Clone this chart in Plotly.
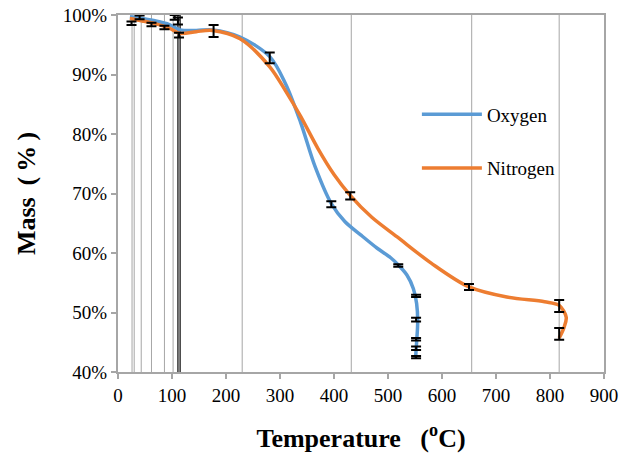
import plotly.graph_objects as go

# Oxygen curve (temperature degC, mass %)
oxy_t = [22, 45, 70, 95, 115, 145, 175, 226, 281, 310, 338, 365, 395, 420, 450, 480, 505, 519, 535, 547, 553, 555, 553, 551]
oxy_m = [99.7, 99.4, 99.0, 98.4, 97.5, 97.4, 97.5, 96.3, 93.0, 88.5, 82.0, 74.5, 68.3, 65.3, 63.0, 60.8, 59.2, 58.0, 56.3, 54.0, 51.5, 48.5, 45.0, 42.3]

# Nitrogen curve
nit_t = [22, 45, 70, 95, 115, 145, 175, 226, 281, 310, 338, 370, 400, 430, 470, 517, 580, 650, 720, 790, 817, 830, 826, 817]
nit_m = [99.4, 99.0, 98.5, 97.8, 96.9, 97.2, 97.4, 96.0, 91.3, 87.3, 83.0, 77.6, 73.2, 69.7, 66.0, 62.7, 58.3, 54.3, 52.6, 51.8, 51.2, 49.2, 47.5, 45.7]

# Error bar points
oxy_err_t = [25, 40, 62, 86, 105, 113, 177, 281, 395, 519, 552, 552, 552, 552, 552]
oxy_err_m = [98.6, 99.6, 98.4, 97.9, 99.6, 96.6, 97.3, 92.8, 68.2, 57.9, 52.8, 48.8, 45.5, 44.0, 42.5]
oxy_err_e = [0.3, 0.3, 0.3, 0.3, 0.4, 0.4, 1.0, 0.9, 0.5, 0.2, 0.2, 0.3, 0.2, 0.3, 0.2]

nit_err_t = [111, 430, 650, 817, 817]
nit_err_m = [99.0, 69.6, 54.3, 51.1, 46.4]
nit_err_e = [0.6, 0.6, 0.5, 1.0, 1.0]

# Vertical drop lines
drop_grey_t = [26, 30, 43, 62, 86, 102, 230, 432, 655, 817]
drop_black_t = [111, 115]

y_ticks = [40, 50, 60, 70, 80, 90, 100]
y_labels = [f"{v}%" for v in y_ticks]
x_ticks = [0, 100, 200, 300, 400, 500, 600, 700, 800, 900]

SERIF = "Liberation Serif, Times New Roman, serif"

def vlines(xs):
    X, Y = [], []
    for x in xs:
        X += [x, x, None]
        Y += [40, 100, None]
    return X, Y

fig = go.Figure()
gx, gy = vlines(drop_grey_t)
fig.add_trace(go.Scatter(x=gx, y=gy, mode="lines", line=dict(color="#a6a6a6", width=1),
                         showlegend=False, hoverinfo="skip"))
bx, by = vlines(drop_black_t)
fig.add_trace(go.Scatter(x=bx, y=by, mode="lines", line=dict(color="#000000", width=1.2),
                         showlegend=False, hoverinfo="skip"))

fig.add_trace(go.Scatter(x=oxy_t, y=oxy_m, mode="lines", name="Oxygen",
                         line=dict(color="#5B9BD5", width=3.5, shape="spline", smoothing=0.9),
                         legendgroup="a"))
fig.add_trace(go.Scatter(x=nit_t, y=nit_m, mode="lines", name="Nitrogen",
                         line=dict(color="#ED7D31", width=3.5, shape="spline", smoothing=0.9),
                         legendgroup="b"))

for ts, ms, es in [(oxy_err_t, oxy_err_m, oxy_err_e), (nit_err_t, nit_err_m, nit_err_e)]:
    fig.add_trace(go.Scatter(x=ts, y=ms, mode="markers",
                             marker=dict(size=1, color="rgba(0,0,0,0)"),
                             error_y=dict(type="data", array=es, visible=True,
                                          color="#000000", thickness=2, width=5),
                             showlegend=False, hoverinfo="skip"))

axis_font = dict(family=SERIF, size=19, color="#000000")
fig.update_layout(
    width=632, height=459,
    margin=dict(l=118, r=28, t=15, b=87, autoexpand=False),
    paper_bgcolor="white", plot_bgcolor="white",
    font=dict(family=SERIF, size=19, color="#000000"),
    showlegend=True,
    legend=dict(x=0.615, y=0.775, xanchor="left", yanchor="top",
                bgcolor="rgba(0,0,0,0)", font=dict(family=SERIF, size=19),
                tracegroupgap=26, traceorder="grouped", itemwidth=60),
    xaxis=dict(range=[0, 900], tickvals=x_ticks, ticks="outside", ticklen=5,
               tickcolor="#a6a6a6", tickwidth=2, showgrid=False, zeroline=False,
               showline=True, linecolor="#a6a6a6", linewidth=2, mirror=True,
               tickfont=axis_font, automargin=False,
               title=dict(text="<b>Temperature   (<sup>o</sup>C)</b>",
                          font=dict(family=SERIF, size=26), standoff=24)),
    yaxis=dict(range=[40, 100], tickvals=y_ticks, ticktext=y_labels, ticks="outside",
               ticklen=5, tickcolor="#a6a6a6", tickwidth=2, showgrid=False, zeroline=False,
               showline=True, linecolor="#a6a6a6", linewidth=2, mirror=True,
               tickfont=axis_font, automargin=False,
               title=dict(text="<b>Mass\u2009 (\u2009%\u2009)</b>",
                          font=dict(family=SERIF, size=26), standoff=20)),
)

fig.write_html("out.html", config={"displayModeBar": False},
               post_script="document.body.style.margin='0';")
